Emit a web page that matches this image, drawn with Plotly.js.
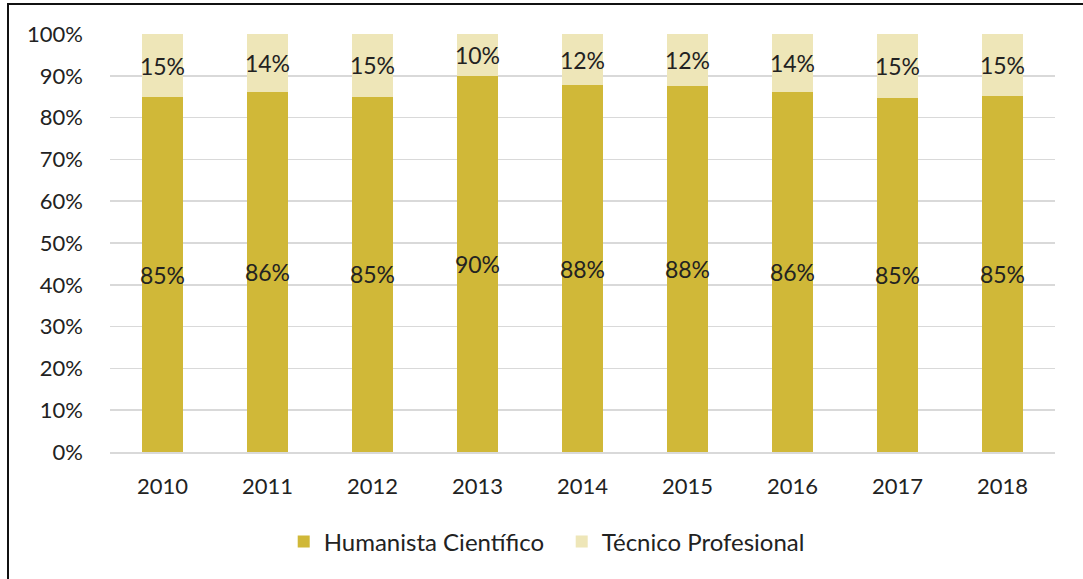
<!DOCTYPE html>
<html>
<head>
<meta charset="utf-8">
<script src="https://cdn.plot.ly/plotly-3.0.1.min.js"></script>
<style>
  html, body { margin: 0; padding: 0; background: #fff; overflow: hidden; }
  #chart { position: absolute; left: 0; top: 0; width: 1083px; height: 579px; }
  #frame { position: absolute; left: 7px; top: 3px; width: 1200px; height: 700px;
           border-left: 2px solid #111; border-top: 2px solid #111; pointer-events: none; }
</style>
</head>
<body>
<div id="chart"></div>
<div id="frame"></div>
<script>
const years = ['2010', '2011', '2012', '2013', '2014', '2015', '2016', '2017', '2018'];
const humanistaCientifico = [84.9, 86.1, 85.0, 89.9, 87.8, 87.6, 86.2, 84.6, 85.2];
const tecnicoProfesional = [15.1, 13.9, 15.0, 10.1, 12.2, 12.4, 13.8, 15.4, 14.8];
const seriesNames = ['Humanista Científico', 'Técnico Profesional'];
const yTickVals = [0, 10, 20, 30, 40, 50, 60, 70, 80, 90, 100];
const yTickText = ['0%', '10%', '20%', '30%', '40%', '50%', '60%', '70%', '80%', '90%', '100%'];

const FONT = 'Lato, "Open Sans", sans-serif';
const TXT = '#222222';

const common = {
  type: 'bar',
  x: years,
  textposition: 'inside',
  insidetextanchor: 'middle',
  texttemplate: '%{y:.0f}%',
  textangle: 0,
  constraintext: 'none',
  textfont: { family: FONT, size: 23, color: TXT },
  hoverinfo: 'skip'
};

const data = [
  Object.assign({}, common, {
    name: seriesNames[0],
    y: humanistaCientifico,
    marker: { color: '#D0B838', line: { width: 0 } }
  }),
  Object.assign({}, common, {
    name: seriesNames[1],
    y: tecnicoProfesional,
    marker: { color: '#EEE6B8', line: { width: 0 } }
  })
];

const layout = {
  width: 1083,
  height: 579,
  margin: { l: 110, r: 28, t: 34, b: 127 },
  paper_bgcolor: '#ffffff',
  plot_bgcolor: '#ffffff',
  barmode: 'stack',
  bargap: 0.603,
  font: { family: FONT, color: TXT, size: 22 },
  showlegend: true,
  legend: {
    orientation: 'h',
    x: 0.478, xanchor: 'center',
    y: -0.215, yanchor: 'middle',
    font: { family: FONT, size: 24, color: TXT },
    entrywidth: 233,
    traceorder: 'normal',
    itemclick: false
  },
  xaxis: {
    type: 'category',
    showgrid: false,
    showline: true,
    linecolor: '#d9d9d9',
    linewidth: 1.5,
    ticks: '',
    ticklabelstandoff: 14,
    tickfont: { family: FONT, size: 22, color: TXT },
    fixedrange: true
  },
  yaxis: {
    range: [0, 100],
    tickmode: 'array',
    tickvals: yTickVals,
    ticktext: yTickText,
    showgrid: true,
    gridcolor: '#d9d9d9',
    gridwidth: 1.5,
    zeroline: false,
    showline: false,
    ticks: '',
    ticklabelstandoff: 26,
    tickfont: { family: FONT, size: 22, color: TXT },
    fixedrange: true
  }
};

Plotly.newPlot('chart', data, layout, { displayModeBar: false, staticPlot: true });
</script>
</body>
</html>
